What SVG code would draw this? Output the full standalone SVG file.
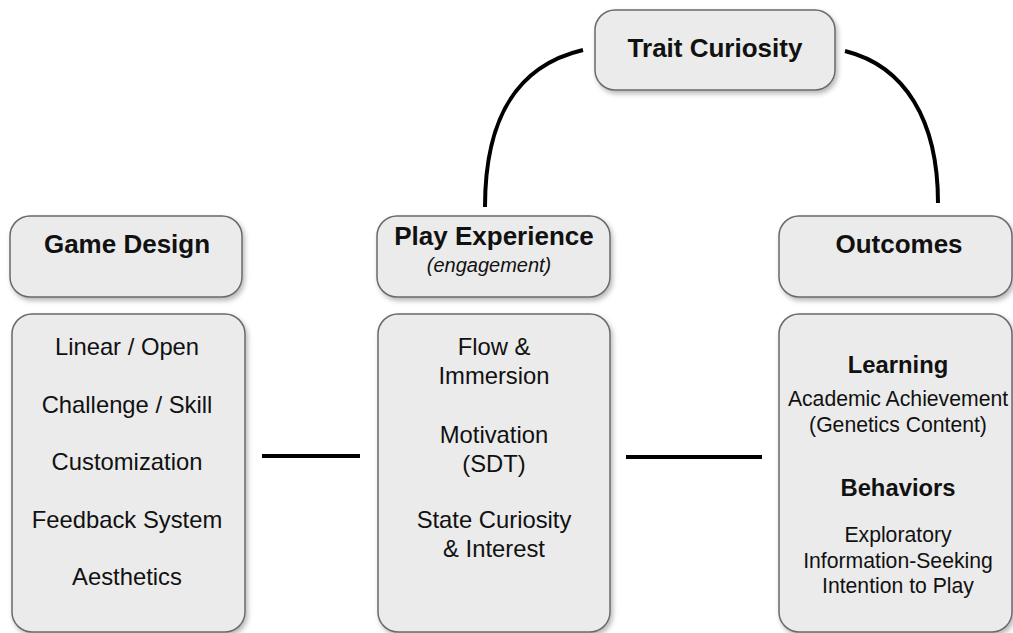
<svg xmlns="http://www.w3.org/2000/svg" width="1013" height="633" viewBox="0 0 1013 633">
<defs>
<filter id="sh" x="-10%" y="-10%" width="130%" height="130%">
<feDropShadow dx="2" dy="3" stdDeviation="2.5" flood-color="#000" flood-opacity="0.28"/>
</filter>
<style>
.box{fill:#ebebeb;stroke:#6a6a6a;stroke-width:1.5;filter:url(#sh)}
.hd{font-family:"Liberation Sans",Arial,sans-serif;font-weight:bold;font-size:26px;fill:#111;text-anchor:middle}
.sub{font-family:"Liberation Sans",Arial,sans-serif;font-style:italic;font-size:20px;fill:#111;text-anchor:middle}
.bd{font-family:"Liberation Sans",Arial,sans-serif;font-size:23.8px;fill:#111;text-anchor:middle}
.bs{font-family:"Liberation Sans",Arial,sans-serif;font-size:21.2px;fill:#111;text-anchor:middle}
.bh{font-family:"Liberation Sans",Arial,sans-serif;font-weight:bold;font-size:23.8px;fill:#111;text-anchor:middle}
.con{fill:none;stroke:#000;stroke-width:4}
</style>
</defs>
<rect width="1013" height="633" fill="#fff"/>
<g id="connectors">
<path class="con" d="M485,207 C485,120 515,66 583,50"/>
<path class="con" d="M845,51 C905,66 938,120 938,203"/>
<line class="con" x1="262" y1="456" x2="360" y2="456"/>
<line class="con" x1="626" y1="457" x2="762" y2="457"/>
</g>
<g id="trait-curiosity">
<rect class="box" x="595" y="10" width="240" height="80" rx="20"/>
<text class="hd" x="715" y="57">Trait Curiosity</text>
</g>
<g id="game-design">
<rect class="box" x="10" y="216" width="232" height="81" rx="20"/>
<text class="hd" x="127" y="253">Game Design</text>
</g>
<g id="game-design-items">
<rect class="box" x="12" y="314" width="233" height="318" rx="20"/>
<text class="bd" x="127" y="355">Linear / Open</text>
<text class="bd" x="127" y="412.5">Challenge / Skill</text>
<text class="bd" x="127" y="470">Customization</text>
<text class="bd" x="127" y="527.5">Feedback System</text>
<text class="bd" x="127" y="585">Aesthetics</text>
</g>
<g id="play-experience">
<rect class="box" x="377" y="216" width="233" height="81" rx="20"/>
<text class="hd" x="494" y="245">Play Experience</text>
<text class="sub" x="489" y="272">(engagement)</text>
</g>
<g id="play-experience-items">
<rect class="box" x="378" y="314" width="232" height="318" rx="20"/>
<text class="bd" x="494" y="355">Flow &amp;</text>
<text class="bd" x="494" y="383.5">Immersion</text>
<text class="bd" x="494" y="443">Motivation</text>
<text class="bd" x="494" y="471.5">(SDT)</text>
<text class="bd" x="494" y="528">State Curiosity</text>
<text class="bd" x="494" y="556.5">&amp; Interest</text>
</g>
<g id="outcomes">
<rect class="box" x="779" y="216" width="233" height="81" rx="20"/>
<text class="hd" x="899" y="253">Outcomes</text>
</g>
<g id="outcomes-items">
<rect class="box" x="779" y="314" width="233" height="318" rx="20"/>
<text class="bh" x="898" y="373">Learning</text>
<text class="bs" x="898" y="406">Academic Achievement</text>
<text class="bs" x="898" y="432">(Genetics Content)</text>
<text class="bh" x="898" y="496">Behaviors</text>
<text class="bs" x="898" y="542">Exploratory</text>
<text class="bs" x="898" y="568">Information-Seeking</text>
<text class="bs" x="898" y="593">Intention to Play</text>
</g>
</svg>
